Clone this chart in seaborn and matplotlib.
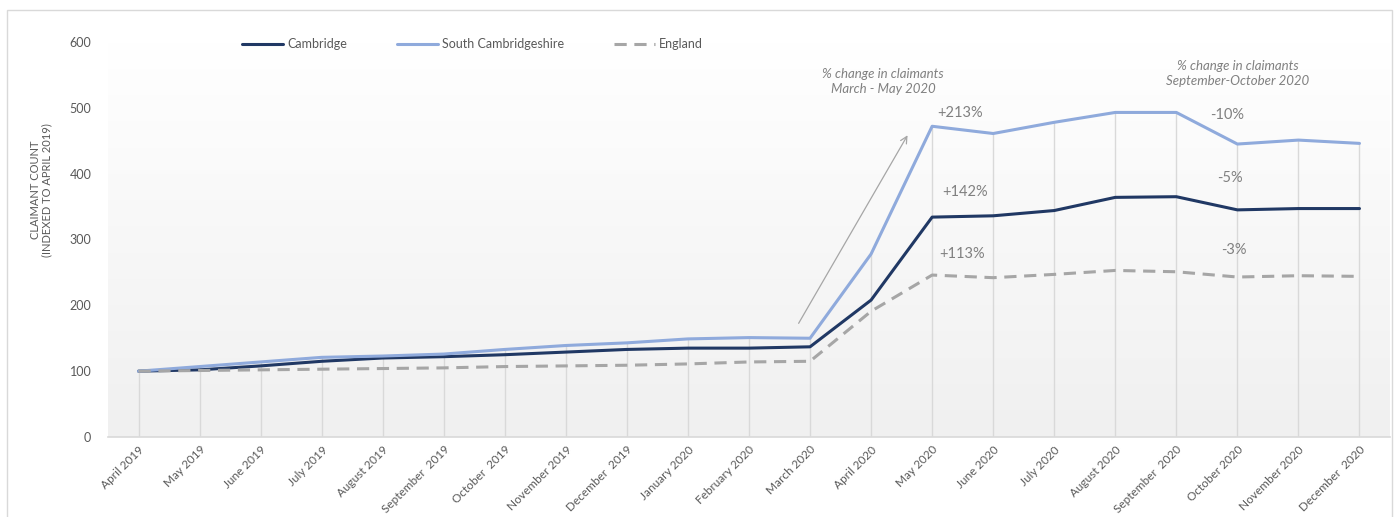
import numpy as np
import pandas as pd
import matplotlib
matplotlib.use("Agg")
import matplotlib.pyplot as plt
from matplotlib.patches import Rectangle
from matplotlib.lines import Line2D
import seaborn as sns

months = ["April 2019", "May 2019", "June 2019", "July 2019", "August 2019",
          "September  2019", "October  2019", "November 2019", "December  2019",
          "January 2020", "February 2020", "March 2020", "April 2020", "May 2020",
          "June 2020", "July 2020", "August 2020", "September  2020",
          "October 2020", "November 2020", "December  2020"]

cambridge = [100, 102, 108, 115, 120, 122, 125, 129, 133, 135, 135, 137,
             208, 334, 336, 344, 364, 365, 345, 347, 347]
south_cambs = [100, 107, 114, 121, 123, 126, 133, 139, 143, 149, 151, 150,
               278, 472, 461, 478, 493, 493, 445, 451, 446]
england = [100, 101, 102, 103, 104, 105, 107, 108, 109, 111, 114, 115,
           191, 246, 242, 247, 253, 251, 243, 245, 244]

series = ["Cambridge", "South Cambridgeshire", "England"]
colors = {"Cambridge": "#203864", "South Cambridgeshire": "#8faadc", "England": "#a6a6a6"}

df = pd.DataFrame({
    "month": list(range(len(months))) * 3,
    "value": cambridge + south_cambs + england,
    "area": [s for s in series for _ in months],
})

sns.set_theme(style="white")
plt.rcParams["font.family"] = ["Lato", "DejaVu Sans"]
txt = "#595959"

fig = plt.figure(figsize=(13.94, 5.17), dpi=100)
ax = fig.add_axes([108 / 1394, 1 - 437 / 517, 1282 / 1394, 395 / 517])

# soft gradient plot background
grad = np.linspace(1.0, 0.0, 256).reshape(-1, 1)
cmap = plt.cm.colors.LinearSegmentedColormap.from_list("g", ["#f0f0f0", "#ffffff"])
ax.imshow(grad, extent=(-0.5, 20.5, 0, 600), aspect="auto", cmap=cmap, origin="upper", zorder=0)

# drop lines from highest series down to axis
top = np.max([cambridge, south_cambs, england], axis=0)
ax.vlines(range(len(months)), 0, top, color="#d9d9d9", lw=1, zorder=1)

sns.lineplot(data=df, x="month", y="value", hue="area", style="area",
             palette=colors, dashes={"Cambridge": "", "South Cambridgeshire": "", "England": (4, 2.5)},
             linewidth=2.2, legend=False, ax=ax, zorder=3)

ax.set_xlim(-0.5, 20.5)
ax.set_ylim(0, 600)
ax.set_yticks(range(0, 601, 100))
ax.set_xticks(range(len(months)))
ax.set_xticklabels(months, rotation=45, ha="right", rotation_mode="anchor")
ax.tick_params(axis="y", length=0, pad=12, labelsize=9, labelcolor=txt)
ax.tick_params(axis="x", length=0, pad=5, labelsize=8.5, labelcolor=txt)
ax.set_xlabel("")
ax.set_ylabel("CLAIMANT COUNT\n(INDEXED TO APRIL 2019)", fontsize=8, color=txt, va="center", linespacing=1.1)
ax.yaxis.set_label_coords(-0.052, 0.625)
for s in ["top", "right", "left"]:
    ax.spines[s].set_visible(False)
ax.spines["bottom"].set_color("#d9d9d9")
ax.spines["bottom"].set_linewidth(1.2)
ax.grid(False)

handles = [Line2D([], [], color=colors["Cambridge"], lw=2.2),
           Line2D([], [], color=colors["South Cambridgeshire"], lw=2.2),
           Line2D([], [], color=colors["England"], lw=2.2, dashes=(4, 2.5))]
fig.legend(handles, series, ncol=3, loc="center left", bbox_to_anchor=(242 / 1394, 1 - 44 / 517),
           frameon=False, fontsize=9, labelcolor=txt, handlelength=3.3, handletextpad=0.3,
           columnspacing=4.0, borderpad=0, borderaxespad=0)

note = dict(color="#808080", fontsize=9.5, style="italic", ha="center", va="center", linespacing=1.3)
ax.text(12.2, 540, "% change in claimants\nMarch - May 2020", **note)
ax.text(18.0, 552, "% change in claimants\nSeptember-October 2020", **note)

pct = dict(color="#808080", fontsize=10.5, ha="center", va="center")
ax.text(13.46, 492, "+213%", **pct)
ax.text(13.54, 372, "+142%", **pct)
ax.text(13.49, 278, "+113%", **pct)
ax.text(17.84, 489, "-10%", **pct)
ax.text(17.87, 394, "-5%", **pct)
ax.text(17.94, 284, "-3%", **pct)

ax.annotate("", xy=(12.62, 462), xytext=(10.79, 169),
            arrowprops=dict(arrowstyle="->", color="#a6a6a6", lw=0.9))

fig.patches.append(Rectangle((7 / 1394, -0.05), 1385 / 1394, 1.05 - 10 / 517, transform=fig.transFigure,
                             fill=False, edgecolor="#d9d9d9", lw=1))

fig.savefig("out.png", dpi=100)
